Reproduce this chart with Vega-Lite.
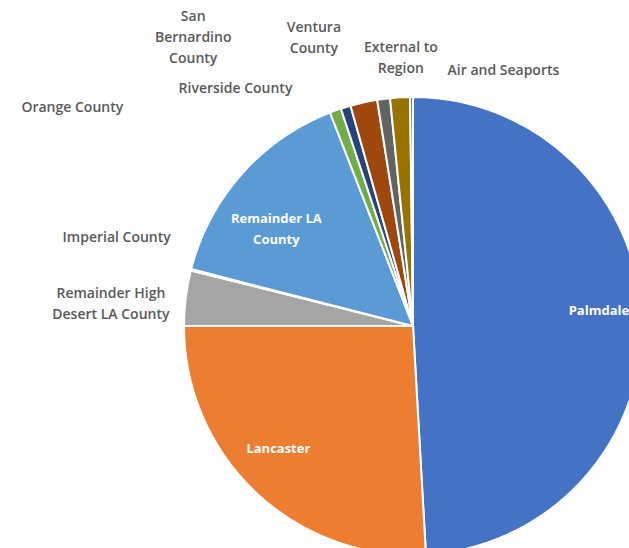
{
  "$schema": "https://vega.github.io/schema/vega-lite/v6.json",
  "width": 432,
  "height": 444,
  "autosize": {"type": "none"},
  "padding": {"left": 197, "top": 104, "right": 0, "bottom": 0},
  "background": "white",
  "view": {"stroke": null},
  "config": {
    "text": {"font": "Open Sans", "fontSize": 14, "fontWeight": 600, "lineHeight": 21, "lineBreak": "\n", "align": "center", "baseline": "middle", "color": "#595959"}
  },
  "data": {
    "values": [
      {"idx": 1, "region": "Palmdale", "label": "Palmdale", "share": 49.1},
      {"idx": 2, "region": "Lancaster", "label": "Lancaster", "share": 25.9},
      {"idx": 3, "region": "Remainder High Desert LA County", "label": "Remainder High\nDesert LA County", "share": 3.9},
      {"idx": 4, "region": "Imperial County", "label": "Imperial County", "share": 0.1},
      {"idx": 5, "region": "Remainder LA County", "label": "Remainder LA\nCounty", "share": 15.1},
      {"idx": 6, "region": "Orange County", "label": "Orange County", "share": 0.8},
      {"idx": 7, "region": "Riverside County", "label": "Riverside County", "share": 0.7},
      {"idx": 8, "region": "San Bernardino County", "label": "San\nBernardino\nCounty", "share": 1.9},
      {"idx": 9, "region": "Ventura County", "label": "Ventura\nCounty", "share": 0.9},
      {"idx": 10, "region": "External to Region", "label": "External to\nRegion", "share": 1.4},
      {"idx": 11, "region": "Air and Seaports", "label": "Air and Seaports", "share": 0.2}
    ]
  },
  "encoding": {
    "theta": {"field": "share", "type": "quantitative", "stack": true},
    "order": {"field": "idx", "type": "quantitative", "sort": "ascending"}
  },
  "layer": [
    {
      "mark": {"type": "arc", "outerRadius": 229, "stroke": "white", "strokeWidth": 2},
      "encoding": {
        "color": {
          "field": "region",
          "type": "nominal",
          "scale": {
            "domain": ["Palmdale", "Lancaster", "Remainder High Desert LA County", "Imperial County", "Remainder LA County", "Orange County", "Riverside County", "San Bernardino County", "Ventura County", "External to Region", "Air and Seaports"],
            "range": ["#4472C4", "#ED7D31", "#A5A5A5", "#FFC000", "#5B9BD5", "#70AD47", "#264478", "#9E480E", "#636363", "#997300", "#255E91"]
          },
          "legend": null
        }
      }
    },
    {
      "mark": {"type": "text", "radius": 180, "dx": 6, "dy": -10, "color": "white", "fontWeight": "bold", "fontSize": 13},
      "encoding": {"text": {"condition": {"test": "datum.region === 'Palmdale'", "field": "label"}, "value": ""}}
    },
    {
      "mark": {"type": "text", "radius": 180, "dx": -11, "dy": -8, "color": "white", "fontWeight": "bold", "fontSize": 13},
      "encoding": {"text": {"condition": {"test": "datum.region === 'Lancaster'", "field": "label"}, "value": ""}}
    },
    {
      "mark": {"type": "text", "radius": 180, "dx": -2, "dy": 12, "color": "white", "fontWeight": "bold", "fontSize": 13},
      "encoding": {"text": {"condition": {"test": "datum.region === 'Remainder LA County'", "field": "label"}, "value": ""}}
    },
    {
      "mark": {"type": "text", "radius": 250, "dx": -54, "dy": -1},
      "encoding": {"text": {"condition": {"test": "datum.region === 'Remainder High Desert LA County'", "field": "label"}, "value": ""}}
    },
    {
      "mark": {"type": "text", "radius": 250, "dx": -54, "dy": -27},
      "encoding": {"text": {"condition": {"test": "datum.region === 'Imperial County'", "field": "label"}, "value": ""}}
    },
    {
      "mark": {"type": "text", "radius": 250, "dx": -256, "dy": 17},
      "encoding": {"text": {"condition": {"test": "datum.region === 'Orange County'", "field": "label"}, "value": ""}}
    },
    {
      "mark": {"type": "text", "radius": 250, "dx": -104, "dy": 2},
      "encoding": {"text": {"condition": {"test": "datum.region === 'Riverside County'", "field": "label"}, "value": ""}}
    },
    {
      "mark": {"type": "text", "radius": 250, "dx": -166, "dy": -65},
      "encoding": {"text": {"condition": {"test": "datum.region === 'San Bernardino County'", "field": "label"}, "value": ""}}
    },
    {
      "mark": {"type": "text", "radius": 250, "dx": -67, "dy": -50},
      "encoding": {"text": {"condition": {"test": "datum.region === 'Ventura County'", "field": "label"}, "value": ""}}
    },
    {
      "mark": {"type": "text", "radius": 250, "dx": 2, "dy": -28},
      "encoding": {"text": {"condition": {"test": "datum.region === 'External to Region'", "field": "label"}, "value": ""}}
    },
    {
      "mark": {"type": "text", "radius": 250, "dx": 92, "dy": -5},
      "encoding": {"text": {"condition": {"test": "datum.region === 'Air and Seaports'", "field": "label"}, "value": ""}}
    }
  ]
}
